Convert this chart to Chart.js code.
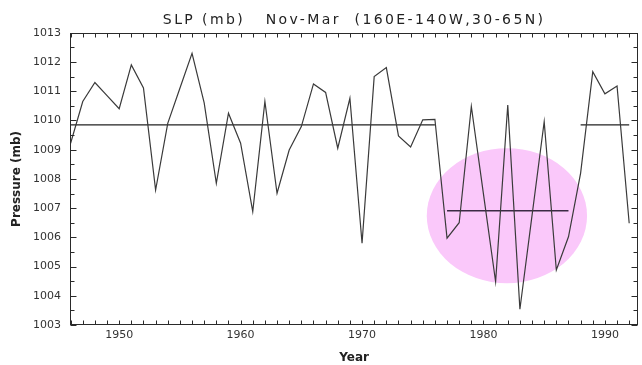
<!DOCTYPE html>
<html>
<head>
<meta charset="utf-8">
<script src="https://cdn.jsdelivr.net/npm/chart.js@4.4.1/dist/chart.umd.min.js"></script>
<style>
html,body{margin:0;padding:0;background:#fff;}
#wrap{width:642px;height:365px;}
</style>
</head>
<body>
<div id="wrap"><canvas id="c" width="642" height="365"></canvas></div>
<script>
// ---- data ----
const years = [1946,1947,1948,1949,1950,1951,1952,1953,1954,1955,1956,1957,1958,1959,1960,
  1961,1962,1963,1964,1965,1966,1967,1968,1969,1970,1971,1972,1973,1974,1975,1976,
  1977,1978,1979,1980,1981,1982,1983,1984,1985,1986,1987,1988,1989,1990,1991,1992];
const slp = [1009.22,1010.65,1011.30,1010.85,1010.40,1011.90,1011.11,1007.62,1009.90,1011.10,1012.30,1010.60,1007.85,1010.25,1009.22,
  1006.88,1010.65,1007.51,1008.99,1009.79,1011.25,1010.96,1009.05,1010.76,1005.80,1011.50,1011.81,1009.47,1009.09,1010.02,1010.04,
  1005.97,1006.50,1010.48,1007.48,1004.48,1010.53,1003.54,1006.75,1009.96,1004.88,1006.02,1008.20,1011.67,1010.91,1011.18,1006.48];
const meanEarlyYears = [1946, 1976];
const meanEarlyValues = [1009.85, 1009.85];
const meanMidYears = [1977, 1987];
const meanMidValues = [1006.91, 1006.91];
const meanLateYears = [1988, 1992];
const meanLateValues = [1009.85, 1009.85];
const xTickLabels = [1950, 1960, 1970, 1980, 1990];
const highlightCenter = [1981.93, 1006.74];   // year, mb
const highlightRadius = [6.6, 2.31];          // years, mb

const titleText = 'SLP (mb)   Nov-Mar  (160E-140W,30-65N)';

function pts(xs, ys){ return xs.map((v,i)=>({x:v, y:ys[i]})); }

const ellipsePlugin = {
  id: 'highlight',
  beforeDatasetsDraw(chart){
    const {ctx, scales:{x, y}} = chart;
    const cx = x.getPixelForValue(highlightCenter[0]);
    const cy = y.getPixelForValue(highlightCenter[1]);
    const rx = Math.abs(x.getPixelForValue(highlightCenter[0] + highlightRadius[0]) - cx);
    const ry = Math.abs(y.getPixelForValue(highlightCenter[1] + highlightRadius[1]) - cy);
    ctx.save();
    ctx.fillStyle = 'rgb(250,200,250)';
    ctx.beginPath();
    ctx.ellipse(cx, cy, rx, ry, 0, 0, Math.PI*2);
    ctx.fill();
    ctx.restore();
  }
};

const framePlugin = {
  id: 'frame',
  afterDatasetsDraw(chart){
    const {ctx, chartArea:a, scales:{x, y}} = chart;
    ctx.save();
    ctx.strokeStyle = '#2a2a2a';
    ctx.lineWidth = 1;
    const L = Math.round(a.left)+0.5, R = Math.round(a.right)-0.5;
    const T = Math.round(a.top)+0.5, B = Math.round(a.bottom)-0.5;
    ctx.strokeRect(L, T, R-L, B-T);
    ctx.beginPath();
    for (let yr = Math.ceil(x.min); yr <= x.max; yr++){
      const px = Math.round(x.getPixelForValue(yr))+0.5;
      ctx.moveTo(px, B); ctx.lineTo(px, B-4);
      ctx.moveTo(px, T); ctx.lineTo(px, T+4);
    }
    for (let v = y.min; v <= y.max + 1e-6; v += 0.5){
      const py = Math.round(y.getPixelForValue(v))+0.5;
      const len = (Math.abs(v - Math.round(v)) < 1e-6) ? 6 : 4;
      ctx.moveTo(L, py); ctx.lineTo(L+len, py);
      ctx.moveTo(R, py); ctx.lineTo(R-len, py);
    }
    ctx.stroke();
    ctx.restore();
  }
};

const titleSpacingPlugin = {
  id: 'titleSpacing',
  beforeDraw(chart){
    const t = chart.titleBlock;
    if (t && !t._spaced){
      const orig = t.draw.bind(t);
      t.draw = function(){
        const ctx = chart.ctx;
        ctx.save();
        try { ctx.letterSpacing = '2.4px'; } catch(e) {}
        orig();
        try { ctx.letterSpacing = '0px'; } catch(e) {}
        ctx.restore();
      };
      t._spaced = true;
    }
  }
};

new Chart(document.getElementById('c'), {
  type: 'line',
  data: {
    datasets: [
      { data: pts(years, slp), borderColor: '#3a3a3a', borderWidth: 1.2, pointRadius: 0, tension: 0, fill: false },
      { data: pts(meanEarlyYears, meanEarlyValues), borderColor: '#222', borderWidth: 1.3, pointRadius: 0, fill: false },
      { data: pts(meanMidYears, meanMidValues), borderColor: '#3b2a44', borderWidth: 1.3, pointRadius: 0, fill: false },
      { data: pts(meanLateYears, meanLateValues), borderColor: '#222', borderWidth: 1.3, pointRadius: 0, fill: false }
    ]
  },
  options: {
    responsive: false,
    animation: false,
    devicePixelRatio: 1,
    layout: { padding: { top: 0, right: 3.7, bottom: 0, left: 0 } },
    plugins: {
      legend: { display: false },
      tooltip: { enabled: false },
      title: {
        display: true,
        fullSize: false,
        text: titleText,
        color: '#222',
        font: { family: 'DejaVu Sans', size: 14, weight: 'normal', lineHeight: 1.2 },
        padding: { top: 12, bottom: 4 }
      }
    },
    scales: {
      x: {
        type: 'linear',
        min: 1945.95,
        max: 1992.75,
        afterBuildTicks: s => { s.ticks = xTickLabels.map(v => ({ value: v })); },
        afterFit: s => { s.height = 40; },
        grid: { drawOnChartArea: false, drawTicks: false },
        border: { display: false },
        ticks: {
          autoSkip: false, maxRotation: 0, padding: 4, color: '#333',
          font: { family: 'DejaVu Sans', size: 11 },
          callback: v => String(v)
        },
        title: {
          display: true, text: 'Year', color: '#222',
          font: { family: 'DejaVu Sans', size: 12, weight: 'bold', lineHeight: 1.2 },
          padding: { top: 0, bottom: 0 }
        }
      },
      y: {
        min: 1003,
        max: 1013,
        afterFit: s => { s.width = 70; },
        grid: { drawOnChartArea: false, drawTicks: false },
        border: { display: false },
        ticks: {
          stepSize: 1, padding: 9, color: '#333',
          font: { family: 'DejaVu Sans', size: 11 },
          callback: v => String(v)
        },
        title: {
          display: true, text: 'Pressure (mb)', color: '#222',
          font: { family: 'DejaVu Sans', size: 12, weight: 'bold', lineHeight: 1.2 },
          padding: { top: 10, bottom: 0 }
        }
      }
    }
  },
  plugins: [ellipsePlugin, framePlugin, titleSpacingPlugin]
});
</script>
</body>
</html>
